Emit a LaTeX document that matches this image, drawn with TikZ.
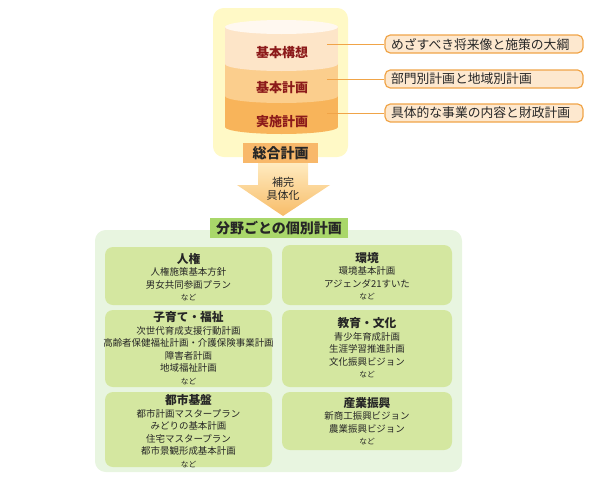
\documentclass[tikz,border=0pt]{standalone}
\usepackage{fontspec}
\setmainfont{Noto Sans CJK JP}
\usepackage{tikz}

\definecolor{panelyellow}{HTML}{FFF9C6}
\definecolor{toplid}{HTML}{FFF8F0}
\definecolor{layerone}{HTML}{FDE5C8}
\definecolor{layertwo}{HTML}{FBCE8D}
\definecolor{layerthree}{HTML}{F8B45A}
\definecolor{layertext}{HTML}{8C1A1A}
\definecolor{lineorange}{HTML}{F0A448}
\definecolor{labelpeach}{HTML}{FDE8CF}
\definecolor{sogoorange}{HTML}{F8B86A}
\definecolor{arrowtop}{HTML}{FFEBC0}
\definecolor{arrowbot}{HTML}{F7BC68}
\definecolor{headgreen}{HTML}{A9D76A}
\definecolor{bggreen}{HTML}{E8F5E0}
\definecolor{boxgreen}{HTML}{D4E7A0}
\definecolor{inktext}{HTML}{262626}

\newcommand{\fieldtitle}[1]{{\fontsize{8.8}{10}\selectfont\bfseries #1}}
\newcommand{\nado}{{\fontsize{5.8}{7}\selectfont など}}

\begin{document}
\begin{tikzpicture}[x=0.75pt,y=0.75pt,yscale=-1,xscale=1,
    layerlabel/.style={text=layertext, font=\fontsize{9.75}{11}\selectfont\bfseries},
    labelbox/.style={draw=lineorange, fill=labelpeach, rounded corners=4pt, line width=0.9pt,
        minimum width=148.5pt, minimum height=13.5pt, text width=139.5pt,
        inner xsep=4.5pt, inner ysep=0pt, align=left, text=inktext,
        font=\fontsize{9.6}{11}\selectfont},
    fieldbox/.style={fill=boxgreen, rounded corners=6pt},
    fieldtext/.style={align=center, text=inktext, inner sep=0pt,
        font=\fontsize{7.1}{9.4}\selectfont},
    leader/.style={draw=lineorange, line width=0.6pt}]
\useasboundingbox (0,0) rectangle (600,486);

%Shape: Panel behind the cylinder
\fill[panelyellow, rounded corners=8pt] (213,8) rectangle (348,157);

%Shape: Cylinder, bottom layer
\fill[layerthree] (225,96) rectangle (338,127);
\fill[layerthree] (281.5,127) ellipse [x radius=56.5, y radius=7];
%Shape: Cylinder, middle layer
\fill[layertwo] (225,64) rectangle (338,96);
\fill[layertwo] (281.5,96) ellipse [x radius=56.5, y radius=7];
%Shape: Cylinder, top layer
\fill[layerone] (225,27) rectangle (338,64);
\fill[layerone] (281.5,64) ellipse [x radius=56.5, y radius=7];
%Shape: Cylinder lid
\fill[toplid] (281.5,27) ellipse [x radius=56.5, y radius=7];

% Text Node
\node (kihonkoso) [layerlabel] at (282,53) {基本構想};
% Text Node
\node (kihonkeikaku) [layerlabel] at (282,88) {基本計画};
% Text Node
\node (jisshi) [layerlabel] at (282,122) {実施計画};

% Text Node
\node (sogo) [fill=sogoorange, minimum width=56.25pt, minimum height=15pt, inner sep=0pt,
    text=inktext, font=\fontsize{10.5}{12}\selectfont\bfseries] at (280.5,153) {総合計画};

% Label boxes on the right
\node (mezasu) [labelbox] at (484,44) {めざすべき将来像と施策の大綱};
\node (bumon) [labelbox] at (484,79) {部門別計画と地域別計画};
\node (gutai) [labelbox] at (484,113) {具体的な事業の内容と財政計画};

\coordinate (koso-end) at (327,44);
\coordinate (keikaku-end) at (327,79);
\coordinate (jisshi-end) at (327,113);
\draw[leader] (koso-end) -- (mezasu.west);
\draw[leader] (keikaku-end) -- (bumon.west);
\draw[leader] (jisshi-end) -- (gutai.west);

%Shape: Block arrow
\shade[top color=arrowtop, bottom color=arrowbot] (258,163) -- (308,163) -- (308,185) -- (330,185)
    -- (283,216) -- (237,185) -- (258,185) -- cycle;
% Text Node
\node (hokan) [align=center, text=inktext, inner sep=0pt, font=\fontsize{8.25}{9.75}\selectfont]
    at (283,188.5) {補完\\具体化};

%Shape: Green background
\fill[bggreen, rounded corners=8pt] (95,230) rectangle (462,472);

% Text Node
\node (bunya) [fill=headgreen, minimum width=103.5pt, minimum height=15pt, inner sep=0pt,
    text=inktext, font=\fontsize{10.5}{12}\selectfont\bfseries] at (279,228) {分野ごとの個別計画};

%Shape: Field boxes
\fill[fieldbox] (105,247) rectangle (272,305);
\fill[fieldbox] (282,245) rectangle (452,305);
\fill[fieldbox] (105,310) rectangle (272,387);
\fill[fieldbox] (282,310) rectangle (452,387);
\fill[fieldbox] (105,392) rectangle (272,467);
\fill[fieldbox] (282,392) rectangle (452,450);

% Text Node
\node (jinken) [fieldtext] at (188.5,277) {\fieldtitle{人権}\\人権施策基本方針\\男女共同参画プラン\\\nado};
% Text Node
\node (kankyo) [fieldtext] at (367,276) {\fieldtitle{環境}\\環境基本計画\\アジェンダ21すいた\\\nado};
% Text Node
\node (kosodate) [fieldtext] at (188.5,348) {\fieldtitle{子育て・福祉}\\次世代育成支援行動計画\\高齢者保健福祉計画・介護保険事業計画\\障害者計画\\地域福祉計画\\\nado};
% Text Node
\node (kyoiku) [fieldtext] at (367,348) {\fieldtitle{教育・文化}\\青少年育成計画\\生涯学習推進計画\\文化振興ビジョン\\\nado};
% Text Node
\node (toshi) [fieldtext] at (188.5,431) {\fieldtitle{都市基盤}\\都市計画マスタープラン\\みどりの基本計画\\住宅マスタープラン\\都市景観形成基本計画\\\nado};
% Text Node
\node (sangyo) [fieldtext] at (367,421) {\fieldtitle{産業振興}\\新商工振興ビジョン\\農業振興ビジョン\\\nado};
\end{tikzpicture}
\end{document}
